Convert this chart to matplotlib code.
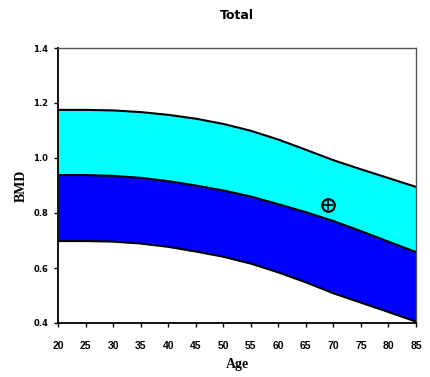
import matplotlib
matplotlib.use("Agg")
import matplotlib.pyplot as plt
import numpy as np

ages = [20, 25, 30, 35, 40, 45, 50, 55, 60, 65, 70, 75, 80, 85]
upper = [1.175, 1.175, 1.173, 1.167, 1.157, 1.143, 1.124, 1.099, 1.067, 1.030, 0.992, 0.959, 0.927, 0.895]
middle = [0.938, 0.938, 0.935, 0.928, 0.916, 0.900, 0.882, 0.860, 0.832, 0.803, 0.771, 0.734, 0.696, 0.658]
lower = [0.698, 0.698, 0.696, 0.689, 0.677, 0.660, 0.641, 0.616, 0.584, 0.548, 0.508, 0.474, 0.440, 0.405]
patient_age = [69.0]
patient_bmd = [0.828]
xticks = [20, 25, 30, 35, 40, 45, 50, 55, 60, 65, 70, 75, 80, 85]
yticks = [0.4, 0.6, 0.8, 1.0, 1.2, 1.4]

fig = plt.figure(figsize=(4.31, 3.77), dpi=100)
ax = fig.add_axes([58/431, 1-323/377, (416-58)/431, (323-48)/377])

ax.fill_between(ages, middle, upper, color="#00FFFF", lw=0)
ax.fill_between(ages, lower, middle, color="#0000FF", lw=0)
for s in (upper, middle, lower):
    ax.plot(ages, s, color="black", lw=1.5)

ax.plot(patient_age, patient_bmd, marker="o", ms=9, mfc="none", mec="black", mew=1.6, ls="none")
ax.plot(patient_age, patient_bmd, marker="+", ms=7, mec="black", mew=1.2, ls="none")

ax.set_xlim(20, 85)
ax.set_ylim(0.4, 1.4)
ax.set_xticks(xticks)
ax.set_yticks(yticks)
ax.set_xticklabels([str(v) for v in xticks], fontsize=7.5, fontweight="bold", family="Liberation Sans")
ax.set_yticklabels([f"{v:.1f}" for v in yticks], fontsize=6, fontweight="bold")
ax.tick_params(axis="x", direction="out", length=3, width=1, pad=10)
ax.tick_params(axis="y", direction="out", length=3, width=1, pad=4)
for side in ("left", "bottom"):
    ax.spines[side].set_linewidth(1.3)
    ax.spines[side].set_color("black")
for side in ("top", "right"):
    ax.spines[side].set_linewidth(1.0)
    ax.spines[side].set_color("#555555")

ax.set_title("Total", fontsize=9, fontweight="bold", pad=21)
ax.set_xlabel("Age", fontsize=10, family="Liberation Serif", fontweight="bold", labelpad=5)
ax.set_ylabel("BMD", fontsize=10, family="Liberation Serif", fontweight="bold", labelpad=4)

fig.savefig("out.png", dpi=100)
